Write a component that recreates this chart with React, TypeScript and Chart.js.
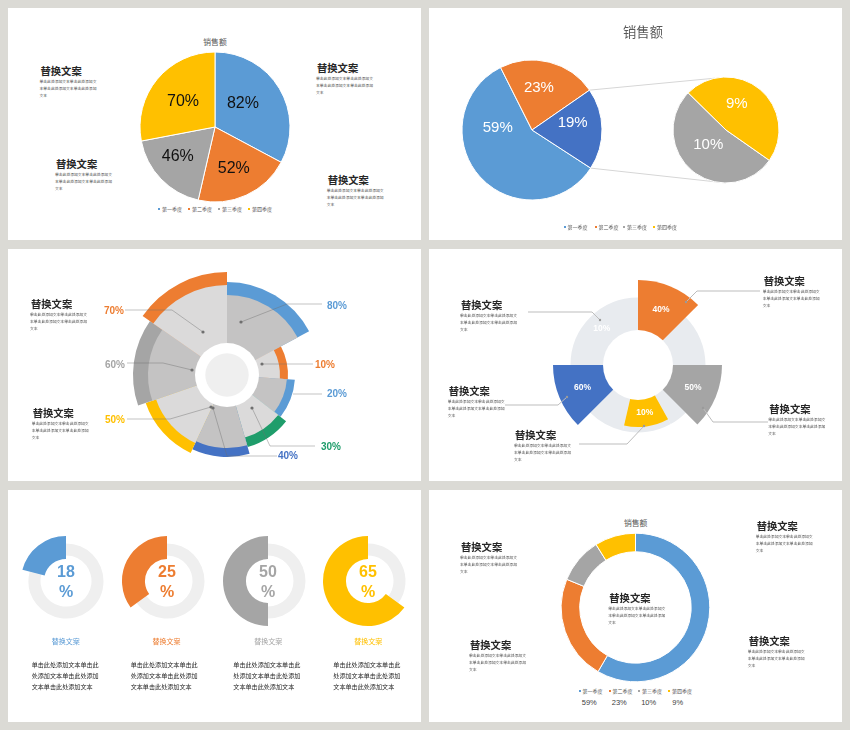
import React, { useEffect, useRef } from "react";
import { Chart, registerables } from "chart.js";

Chart.register(...registerables);

const CJK = '"Noto Sans CJK SC", "Noto Sans", sans-serif';
const LAT = '"Liberation Sans", Arial, "Noto Sans CJK SC", sans-serif';

const BLUE = "#5b9bd5";
const ORANGE = "#ed7d31";
const GREY = "#a5a5a5";
const YELLOW = "#ffc000";
const DARK_BLUE = "#4472c4";
const GREEN = "#1f9d6b";
const CLEAR = "rgba(0,0,0,0)";

/* ---------------- data ---------------- */
const quarterNames = ["第一季度", "第二季度", "第三季度", "第四季度"];
const quarterColors = [BLUE, ORANGE, GREY, YELLOW];

// panel 1 : pie
const salesPieValues = [82, 52, 46, 70];

// panel 2 : pie of pie
const popMainLabels = ["第一季度", "第二季度", "第三、四季度"];
const popMainValues = [59, 23, 19];
const popSubLabels = ["第三季度", "第四季度"];
const popSubValues = [10, 9];

// panel 3 : rose
const roseLabels = ["80%", "10%", "20%", "30%", "40%", "50%", "60%", "70%"];
const roseAngles = [62, 32, 34, 36, 41, 46, 54, 55];
const roseInner = [80, 53, 60, 65, 73, 75, 79, 90];
const roseOuter = [93, 61, 68, 75, 82, 86, 94, 103];

// panel 4 : highlighted ring
const ringLabels = ["40%", "", "50%", "", "10%", "", "60%", "10%"];
const ringAngles = [45, 45, 45, 16, 42, 32, 45, 90];
const ringHighlight = [85, 0, 84, 0, 62, 0, 85, 0];
const ringBase = [67.5, 67.5, 67.5, 67.5, 67.5, 67.5, 67.5, 67.5];

// panel 5 : gauges
const gaugeLabels = ["18", "25", "50", "65"];
const gaugeArcs = [21, 35, 50, 65];

// panel 6 : doughnut
const donutValues = [59, 23, 10, 9];

/* ---------------- layout / style ---------------- */
const PANELS = [
  [8, 8, 421, 240],
  [429, 8, 842, 240],
  [8, 249, 421, 481],
  [429, 249, 842, 481],
  [8, 490, 421, 722],
  [429, 490, 842, 722],
];
const roseBodyColors = ["#c4c3c3", "#dbdada", "#c4c3c3", "#dbdada", "#c4c3c3", "#dbdada", "#c4c3c3", "#dbdada"];
const roseBandColors = [BLUE, ORANGE, BLUE, GREEN, DARK_BLUE, YELLOW, GREY, ORANGE];
const roseLeaders = [
  { pts: [[14, -53], [60, -71], [95, -71]], lab: [110, -69], dot: true },
  { pts: [[35, -11], [86, -11]], lab: [98, -10], dot: true },
  { pts: [[66, 19], [95, 19]], lab: [110, 19], dot: false },
  { pts: [[25, 33], [43, 71], [88, 71]], lab: [104, 72], dot: true },
  { pts: [[-14, 33], [0, 81], [50, 81]], lab: [61, 81], dot: true },
  { pts: [[-16, 32], [-57, 44], [-100, 44]], lab: [-112, 45], dot: true },
  { pts: [[-35, -5], [-64, -12], [-100, -12]], lab: [-112, -10], dot: true },
  { pts: [[-24, -43], [-55, -65], [-102, -65]], lab: [-113, -64], dot: true },
];
const ringColors = [ORANGE, CLEAR, GREY, CLEAR, YELLOW, CLEAR, DARK_BLUE, CLEAR];
const ringLeaders = [
  [[-110, -53], [-46, -53], [-38, -45]],
  [[122, -74], [59, -74], [48, -63]],
  [[-133, 40], [-80, 40], [-71, 32]],
  [[-59, 79], [-11, 79], [6, 61]],
  [[130, 57], [75, 57], [65, 43]],
];
const gaugeCenters = [65.8, 166.5, 268.3, 368.3];
const gaugeY = 581;
const gaugeColors = [BLUE, ORANGE, GREY, YELLOW];
const gaugeBodyX = [31.7, 130.7, 233.3, 333.3];
const gaugeBody = ["单击此处添加文本单击此", "处添加文本单击此处添加", "文本单击此处添加文本"];
const BODY = ["单击此处添加文本单击此处添加文", "本单击此处添加文本单击此处添加", "文本"];
const textBlocks = [
  [39.5, 70.7], [55, 163.3], [316, 67], [326.7, 179.3],
  [30, 303.3], [31.7, 412.7],
  [460, 304.3], [762.7, 280.7], [447.7, 390.7], [514, 434], [768.3, 408.3],
  [460, 546], [755.7, 525], [469, 644], [747.7, 640], [608.3, 597.3],
];

const rad = (d: number) => (d * Math.PI) / 180;

function sliceLabels(texts: string[], color: string, font: string, offs: number[], fracs: number[]) {
  return {
    id: "sliceLabels",
    afterDatasetsDraw(chart: any) {
      const ctx = chart.ctx;
      const meta = chart.getDatasetMeta(0);
      ctx.save();
      ctx.fillStyle = color;
      ctx.font = font;
      ctx.textAlign = "center";
      ctx.textBaseline = "middle";
      meta.data.forEach((arc: any, i: number) => {
        const p = arc.getProps(["x", "y", "startAngle", "endAngle", "innerRadius", "outerRadius"]);
        const a = (p.startAngle + p.endAngle) / 2 + rad(offs[i]);
        const r = p.innerRadius + (p.outerRadius - p.innerRadius) * fracs[i];
        ctx.fillText(texts[i], p.x + Math.cos(a) * r, p.y + Math.sin(a) * r);
      });
      ctx.restore();
    },
  };
}

function Txt(props: any) {
  const { x, y, size, color, weight, text, align, family } = props;
  const lh = Math.ceil(size * 1.6);
  const style: any = {
    position: "absolute",
    top: y - lh / 2,
    fontSize: size,
    lineHeight: lh + "px",
    color,
    fontWeight: weight || 400,
    fontFamily: family || CJK,
    whiteSpace: "nowrap",
  };
  if (align === "center") {
    style.left = x - 100;
    style.width = 200;
    style.textAlign = "center";
  } else style.left = x;
  return <div style={style}>{text}</div>;
}

function TextBlock({ x, y }: any) {
  return (
    <>
      <Txt x={x + 1} y={y} size={10.3} weight={700} color="#262626" text="替换文案" />
      {BODY.map((t, i) => (
        <Txt key={i} x={x} y={y + 11 + 7 * i} size={3.8} color="#404040" text={t} />
      ))}
    </>
  );
}

function Legend({ xs, y }: any) {
  return (
    <>
      {quarterNames.map((n, i) => (
        <React.Fragment key={i}>
          <div style={{ position: "absolute", left: xs[i] - 1.2, top: y - 1.2, width: 2.4, height: 2.4, background: quarterColors[i] }} />
          <Txt x={xs[i] + 2.6} y={y} size={5} color="#595959" text={n} />
        </React.Fragment>
      ))}
    </>
  );
}

export default function App() {
  const canv = useRef<Record<string, HTMLCanvasElement>>({});
  const reg = (k: string) => (el: HTMLCanvasElement | null) => {
    if (el) canv.current[k] = el;
  };

  useEffect(() => {
    const c = canv.current;
    const charts: Chart[] = [];
    const common: any = {
      responsive: false,
      animation: false,
      events: [],
      plugins: { legend: { display: false }, tooltip: { enabled: false }, title: { display: false } },
    };

    // Panel 1
    charts.push(
      new Chart(c.pie1, {
        type: "pie",
        data: { labels: quarterNames, datasets: [{ data: salesPieValues, backgroundColor: quarterColors, borderColor: "#fff", borderWidth: 1 }] },
        options: { ...common, radius: 75 },
        plugins: [sliceLabels(salesPieValues.map((v) => v + "%"), "#111", `16px ${LAT}`, [-9.6, 0.2, 5.8, -1.6], [0.49, 0.61, 0.63, 0.54])],
      } as any)
    );

    // Panel 2
    const sub = new Chart(c.popSub, {
      type: "pie",
      data: { labels: popSubLabels, datasets: [{ data: popSubValues, backgroundColor: [GREY, YELLOW], borderColor: "#fff", borderWidth: 1 }] },
      options: { ...common, radius: 53, rotation: 125 },
      plugins: [sliceLabels(popSubValues.map((v) => v + "%"), "#fff", `15px ${LAT}`, [10, -17], [0.44, 0.53])],
    } as any);
    charts.push(sub);
    const subOffX = 671 - 429;
    const subOffY = 75 - 8;
    const connector = {
      id: "popLines",
      beforeDatasetsDraw(chart: any) {
        const ctx = chart.ctx;
        const p = chart.getDatasetMeta(0).data[2].getProps(["x", "y", "startAngle", "endAngle", "outerRadius"]);
        const s = sub.getDatasetMeta(0).data[0] as any;
        const sx = s.x + subOffX;
        const sy = s.y + subOffY;
        const sr = s.outerRadius;
        const t = rad(-102);
        ctx.save();
        ctx.strokeStyle = "#d6d6d6";
        ctx.lineWidth = 1;
        ctx.beginPath();
        ctx.moveTo(p.x + p.outerRadius * Math.cos(p.startAngle), p.y + p.outerRadius * Math.sin(p.startAngle));
        ctx.lineTo(sx + sr * Math.cos(t), sy + sr * Math.sin(t));
        ctx.moveTo(p.x + p.outerRadius * Math.cos(p.endAngle), p.y + p.outerRadius * Math.sin(p.endAngle));
        ctx.lineTo(sx, sy + sr);
        ctx.stroke();
        ctx.restore();
      },
    };
    charts.push(
      new Chart(c.popMain, {
        type: "pie",
        data: { labels: popMainLabels, datasets: [{ data: popMainValues, backgroundColor: [BLUE, ORANGE, DARK_BLUE], borderColor: "#fff", borderWidth: 1 }] },
        options: { ...common, radius: 70, rotation: 123, layout: { padding: { left: 0, right: 207, top: 12, bottom: 0 } } },
        plugins: [connector, sliceLabels(popMainValues.map((v) => v + "%"), "#fff", `15px ${LAT}`, [45, -5, -9], [0.49, 0.61, 0.59])],
      } as any)
    );

    // Panel 3 rose
    const rosePlugin = {
      id: "rose",
      afterDatasetsDraw(chart: any) {
        const ctx = chart.ctx;
        const el = chart.getDatasetMeta(0).data[0];
        const cx = el.x;
        const cy = el.y;
        ctx.save();
        ctx.fillStyle = "#ffffff";
        ctx.beginPath();
        ctx.arc(cx, cy, 32, 0, Math.PI * 2);
        ctx.fill();
        ctx.fillStyle = "#efefef";
        ctx.beginPath();
        ctx.arc(cx, cy, 21.7, 0, Math.PI * 2);
        ctx.fill();
        roseLeaders.forEach((L, i) => {
          ctx.strokeStyle = "rgba(110,110,110,0.42)";
          ctx.lineWidth = 1;
          ctx.beginPath();
          L.pts.forEach((q, k) => (k ? ctx.lineTo(cx + q[0], cy + q[1]) : ctx.moveTo(cx + q[0], cy + q[1])));
          ctx.stroke();
          if (L.dot) {
            ctx.fillStyle = "#6f6f6f";
            ctx.beginPath();
            ctx.arc(cx + L.pts[0][0], cy + L.pts[0][1], 1.6, 0, Math.PI * 2);
            ctx.fill();
          }
          ctx.fillStyle = roseBandColors[i];
          ctx.font = `bold 10px ${LAT}`;
          ctx.textAlign = "center";
          ctx.textBaseline = "middle";
          ctx.fillText(roseLabels[i], cx + L.lab[0], cy + L.lab[1]);
        });
        ctx.restore();
      },
    };
    charts.push(
      new Chart(c.rose, {
        type: "polarArea",
        data: {
          labels: roseLabels,
          datasets: [
            { data: roseInner, backgroundColor: roseBodyColors, borderWidth: 0, angle: (ctx: any) => roseAngles[ctx.dataIndex] },
            { data: roseOuter, backgroundColor: roseBandColors, borderWidth: 0, angle: (ctx: any) => roseAngles[ctx.dataIndex] },
          ],
        },
        options: {
          ...common,
          layout: { padding: { left: 116, right: 91, top: 23, bottom: 3 } },
          scales: { r: { display: false, min: 0, max: 103 } },
        },
        plugins: [rosePlugin],
      } as any)
    );

    // Panel 4 ring
    const ringPlugin = {
      id: "ring",
      afterDatasetsDraw(chart: any) {
        const ctx = chart.ctx;
        const hi = chart.getDatasetMeta(0).data;
        const base = chart.getDatasetMeta(1).data;
        const cx = hi[0].x;
        const cy = hi[0].y;
        const inner = 35;
        ctx.save();
        ctx.fillStyle = "#ffffff";
        ctx.beginPath();
        ctx.arc(cx, cy, inner, 0, Math.PI * 2);
        ctx.fill();
        ctx.font = `bold 8.5px ${LAT}`;
        ctx.textAlign = "center";
        ctx.textBaseline = "middle";
        ctx.fillStyle = "#ffffff";
        hi.forEach((arc: any, i: number) => {
          if (!ringLabels[i]) return;
          const src = ringHighlight[i] > 0 ? arc : base[i];
          const p = src.getProps(["startAngle", "endAngle", "outerRadius"]);
          const a = (p.startAngle + p.endAngle) / 2;
          const r = (inner + p.outerRadius) / 2;
          ctx.fillText(ringLabels[i], cx + Math.cos(a) * r, cy + Math.sin(a) * r);
        });
        ctx.strokeStyle = "#bdbdbd";
        ctx.lineWidth = 1;
        ringLeaders.forEach((pts) => {
          ctx.beginPath();
          pts.forEach((q, k) => (k ? ctx.lineTo(cx + q[0], cy + q[1]) : ctx.moveTo(cx + q[0], cy + q[1])));
          ctx.stroke();
          const e = pts[pts.length - 1];
          ctx.fillStyle = "#9a9a9a";
          ctx.beginPath();
          ctx.arc(cx + e[0], cy + e[1], 1.2, 0, Math.PI * 2);
          ctx.fill();
        });
        ctx.restore();
      },
    };
    charts.push(
      new Chart(c.ring, {
        type: "polarArea",
        data: {
          labels: ringLabels,
          datasets: [
            { data: ringHighlight, backgroundColor: ringColors, borderWidth: 0, angle: (ctx: any) => ringAngles[ctx.dataIndex] },
            { data: ringBase, backgroundColor: "#e8ebef", borderWidth: 0, angle: (ctx: any) => ringAngles[ctx.dataIndex] },
          ],
        },
        options: {
          ...common,
          layout: { padding: { left: 124, right: 119, top: 31, bottom: 31 } },
          scales: { r: { display: false, min: 0, max: 85 } },
        },
        plugins: [ringPlugin],
      } as any)
    );

    // Panel 5 gauges
    gaugeArcs.forEach((v, i) => {
      charts.push(
        new Chart(c["gbg" + i], {
          type: "doughnut",
          data: { labels: ["", ""], datasets: [{ data: [100 - v, v], backgroundColor: ["#efefef", "#efefef"], borderWidth: 0 }] },
          options: { ...common, radius: 37.5, cutout: "68%" },
        } as any)
      );
      charts.push(
        new Chart(c["gfg" + i], {
          type: "doughnut",
          data: { labels: ["", ""], datasets: [{ data: [100 - v, v], backgroundColor: [CLEAR, gaugeColors[i]], borderWidth: 0 }] },
          options: { ...common, radius: 45, cutout: "49%" },
          plugins: [
            {
              id: "gaugeText",
              afterDatasetsDraw(chart: any) {
                const ctx = chart.ctx;
                const el = chart.getDatasetMeta(0).data[0];
                ctx.save();
                ctx.fillStyle = gaugeColors[i];
                ctx.font = `bold 16px ${LAT}`;
                ctx.textAlign = "center";
                ctx.textBaseline = "middle";
                ctx.fillText(gaugeLabels[i], el.x, el.y - 8.7);
                ctx.fillText("%", el.x, el.y + 11.3);
                ctx.restore();
              },
            },
          ],
        } as any)
      );
    });

    // Panel 6 doughnut
    charts.push(
      new Chart(c.donut, {
        type: "doughnut",
        data: { labels: quarterNames, datasets: [{ data: donutValues, backgroundColor: quarterColors, borderColor: "#fff", borderWidth: 1 }] },
        options: { ...common, radius: 74.3, cutout: "75%" },
      } as any)
    );

    return () => charts.forEach((ch) => ch.destroy());
  }, []);

  const abs = (x: number, y: number): any => ({ position: "absolute", left: x, top: y });

  return (
    <div style={{ position: "fixed", left: 0, top: 0, width: 850, height: 730, background: "#dbdad5", overflow: "hidden" }}>
      {PANELS.map((p, i) => (
        <div key={i} style={{ position: "absolute", left: p[0], top: p[1], width: p[2] - p[0], height: p[3] - p[1], background: "#ffffff" }} />
      ))}

      {/* panel 1 */}
      <canvas ref={reg("pie1")} width={152} height={152} style={abs(139, 51)} />
      <Txt x={215} y={41} size={7.8} color="#595959" text="销售额" align="center" />
      <Legend xs={[159.3, 189.3, 219.3, 249.3]} y={209.3} />

      {/* panel 2 */}
      <canvas ref={reg("popMain")} width={413} height={232} style={abs(429, 8)} />
      <canvas ref={reg("popSub")} width={110} height={110} style={abs(671, 75)} />
      <Txt x={643} y={32} size={13.3} color="#595959" text="销售额" align="center" />
      <Legend xs={[565, 596, 624.3, 654.3]} y={227} />

      {/* panel 3 */}
      <canvas ref={reg("rose")} width={413} height={232} style={abs(8, 249)} />

      {/* panel 4 */}
      <canvas ref={reg("ring")} width={413} height={232} style={abs(429, 249)} />

      {/* panel 5 */}
      {gaugeArcs.map((_, i) => (
        <React.Fragment key={i}>
          <canvas ref={reg("gbg" + i)} width={92} height={92} style={abs(gaugeCenters[i] - 46, gaugeY - 46)} />
          <canvas ref={reg("gfg" + i)} width={92} height={92} style={abs(gaugeCenters[i] - 46, gaugeY - 46)} />
          <Txt x={gaugeCenters[i]} y={641} size={7} color={gaugeColors[i]} text="替换文案" align="center" />
          {gaugeBody.map((t, k) => (
            <Txt key={k} x={gaugeBodyX[i]} y={665 + 10.8 * k} size={6.1} color="#262626" text={t} />
          ))}
        </React.Fragment>
      ))}

      {/* panel 6 */}
      <canvas ref={reg("donut")} width={151} height={151} style={abs(560, 532)} />
      <Txt x={635.7} y={522.3} size={7.8} color="#595959" text="销售额" align="center" />
      <Legend xs={[580, 610, 639.3, 669.3]} y={690.7} />
      {donutValues.map((v, i) => (
        <Txt key={i} x={[589.3, 619.3, 648.7, 677.7][i]} y={702.7} size={7.5} color="#404040" text={v + "%"} align="center" family={LAT} />
      ))}

      {textBlocks.map((b, i) => (
        <TextBlock key={i} x={b[0]} y={b[1]} />
      ))}
    </div>
  );
}
